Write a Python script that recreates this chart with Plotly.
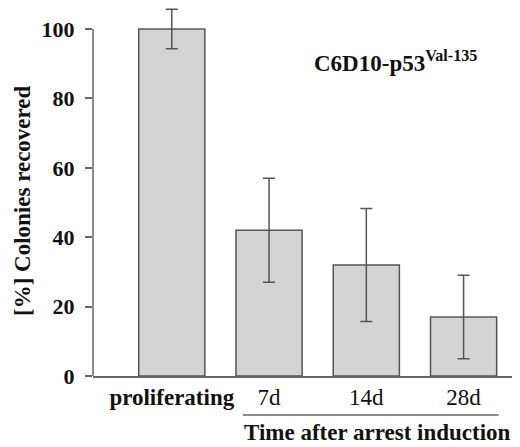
import plotly.graph_objects as go

categories = ["proliferating", "7d", "14d", "28d"]
values = [100, 42, 32, 17]
errors = [5.7, 15, 16.3, 12]
y_ticks = [0, 20, 40, 60, 80, 100]
title_main = "C6D10-p53"
title_sup = "Val-135"
y_label = "[%] Colonies recovered"
x_group_label = "Time after arrest induction"

FONT = "Liberation Serif"
AX = "#666666"
TXT = "#111111"

OFF = 8  # page body margin of the html page
W, H = 520 - OFF, 447 - OFF
PLOT_LEFT, PLOT_TOP, PLOT_BOT = 93, 3, 376   # in page pixels
L = PLOT_LEFT - OFF
T = max(PLOT_TOP - OFF, 0)
B = H - (PLOT_BOT - OFF)
PW = W - L
PH = H - T - B
YMAX = 100 * (PLOT_BOT - OFF - T) / (PLOT_BOT - 29)


def px(x):
    return (x - OFF - L) / PW


def py(y):
    return (H - B - (y - OFF)) / PH


x_pos = list(range(len(categories)))
tick_text = ["<b>" + categories[0] + "</b>"] + categories[1:]

fig = go.Figure()
fig.add_trace(go.Bar(
    x=x_pos, y=values, width=0.68,
    marker=dict(color="#d4d4d4", line=dict(color="#555555", width=1.5)),
    error_y=dict(type="data", array=errors, visible=True, color="#555555",
                 thickness=1.5, width=6),
))

fig.update_layout(
    width=W, height=H,
    margin=dict(l=L, r=0, t=T, b=B, pad=0),
    paper_bgcolor="white", plot_bgcolor="white",
    showlegend=False,
    font=dict(family=FONT, color=TXT),
    xaxis=dict(range=[-0.81, 3.58], tickvals=x_pos, ticktext=tick_text,
               showline=True, linecolor=AX, linewidth=1.5, ticks="",
               showgrid=False, zeroline=False, automargin=False,
               tickfont=dict(size=23, family=FONT, color=TXT)),
    yaxis=dict(range=[0, YMAX], tickvals=y_ticks,
               ticktext=["<b>%d</b>" % v for v in y_ticks],
               showline=False, ticks="outside",
               ticklen=7, tickcolor=AX, tickwidth=1.5, ticklabelstandoff=6,
               showgrid=False, zeroline=False, automargin=False,
               tickfont=dict(size=22, family=FONT, color=TXT)),
)

# y-axis spine only up to 100
fig.add_shape(type="line", xref="paper", yref="y", x0=0, x1=0, y0=0, y1=100,
              line=dict(color=AX, width=1.5))

fig.add_annotation(text="<b>" + title_main + "<sup>" + title_sup + "</sup></b>",
                   xref="paper", yref="paper", x=px(312), y=py(62),
                   xanchor="left", yanchor="middle",
                   showarrow=False, font=dict(size=23, family=FONT, color=TXT))
fig.add_annotation(text="<b>" + y_label + "</b>", textangle=-90,
                   xref="paper", yref="paper", x=px(23), y=py(201),
                   xanchor="center", yanchor="middle",
                   showarrow=False, font=dict(size=23, family=FONT, color=TXT))
fig.add_annotation(text="<b>" + x_group_label + "</b>",
                   xref="paper", yref="paper", x=px(377), y=py(432),
                   xanchor="center", yanchor="middle",
                   showarrow=False, font=dict(size=23, family=FONT, color=TXT))
fig.add_shape(type="line", xref="x", yref="paper", x0=0.73, x1=3.36,
              y0=py(415), y1=py(415),
              line=dict(color=AX, width=1.5))

fig.write_html("out.html")
